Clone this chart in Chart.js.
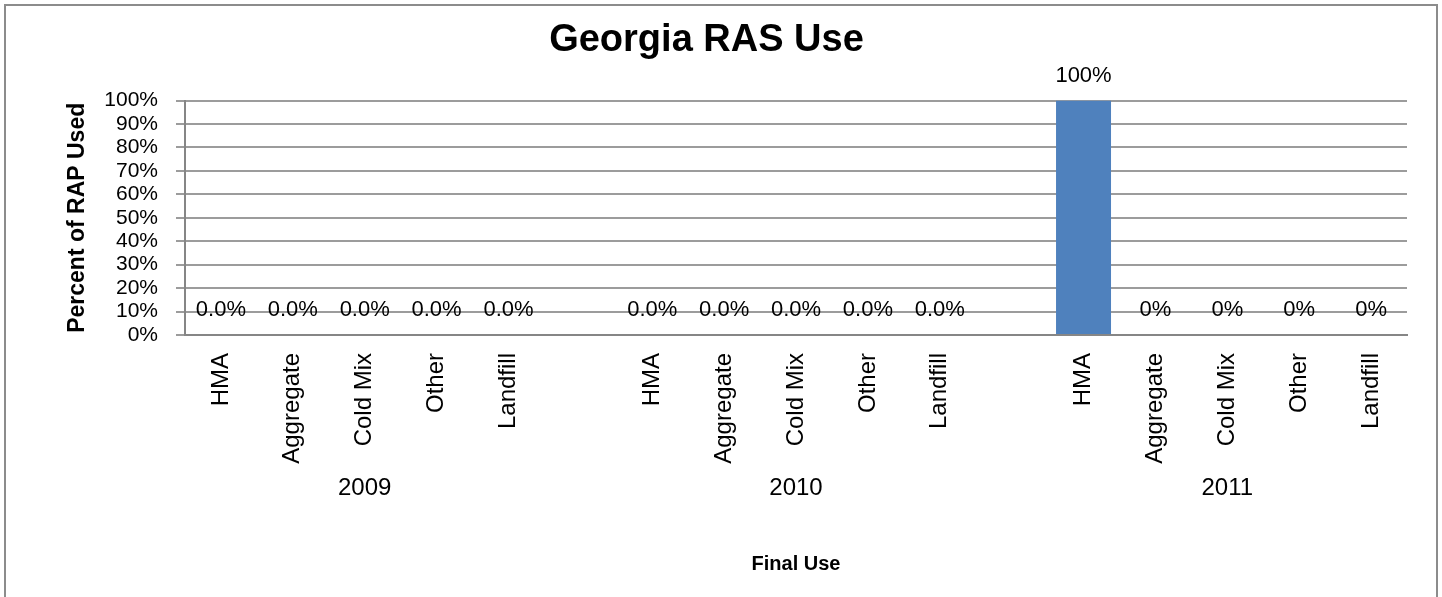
<!DOCTYPE html>
<html>
<head>
<meta charset="utf-8">
<title>Georgia RAS Use</title>
<script src="https://cdn.jsdelivr.net/npm/chart.js@4.4.0/dist/chart.umd.min.js"></script>
<style>
  html, body { margin: 0; padding: 0; background: #fff; overflow: hidden; }
  .frame { position: absolute; left: 4px; top: 4px; width: 1430px; height: 620px; border: 2px solid #8c8c8c; }
  canvas { display: block; }
</style>
</head>
<body>
<div class="frame"><canvas id="ras-chart" width="1430" height="591"></canvas></div>
<script>
// data
const finalUses = ['HMA', 'Aggregate', 'Cold Mix', 'Other', 'Landfill'];
const years     = ['2009', '2010', '2011'];
const use2009   = [0, 0, 0, 0, 0];
const use2010   = [0, 0, 0, 0, 0];
const use2011   = [100, 0, 0, 0, 0];
const labelDecimals = [1, 1, 0];   // 2009/2010 labels show 0.0%, 2011 shows 0%
const yTicks    = [0, 10, 20, 30, 40, 50, 60, 70, 80, 90, 100];

const GRID = '#9c9c9c';
const AXIS = '#868686';
const FONT = '"Liberation Sans", Arial, sans-serif';

// flatten the year groups into one category axis, with an empty slot between groups
const seriesByYear = [use2009, use2010, use2011];
const labels = [], values = [], decimals = [], groupSlots = [];
seriesByYear.forEach((vals, gi) => {
  if (gi > 0) { labels.push(''); values.push(null); decimals.push(0); }
  const first = labels.length;
  vals.forEach((v, i) => { labels.push(finalUses[i]); values.push(v); decimals.push(labelDecimals[gi]); });
  groupSlots.push([first, labels.length - 1]);
});

const valueLabels = {
  id: 'valueLabels',
  afterDatasetsDraw(chart) {
    const ctx = chart.ctx;
    const meta = chart.getDatasetMeta(0);
    ctx.save();
    ctx.font = '22px ' + FONT;
    ctx.fillStyle = '#000';
    ctx.textAlign = 'center';
    ctx.textBaseline = 'middle';
    meta.data.forEach((bar, i) => {
      const v = values[i];
      if (v === null) return;
      ctx.fillText(v.toFixed(decimals[i]) + '%', bar.x, bar.y - 25);
    });
    ctx.restore();
  }
};

const yearLabels = {
  id: 'yearLabels',
  afterDraw(chart) {
    const ctx = chart.ctx;
    const x = chart.scales.x;
    ctx.save();
    ctx.font = '24px ' + FONT;
    ctx.fillStyle = '#000';
    ctx.textAlign = 'center';
    ctx.textBaseline = 'middle';
    groupSlots.forEach(([a, b], gi) => {
      const cx = (x.getPixelForValue(a) + x.getPixelForValue(b)) / 2;
      ctx.fillText(years[gi], cx, x.top + 153);
    });
    ctx.restore();
  }
};

new Chart(document.getElementById('ras-chart'), {
  type: 'bar',
  data: {
    labels,
    datasets: [{ data: values, backgroundColor: '#4F81BD', borderWidth: 0,
                 categoryPercentage: 1, barPercentage: 0.765 }],
  },
  options: {
    responsive: false, animation: false,
    layout: { padding: { left: 0, right: 29, top: 0, bottom: 0 } },
    plugins: {
      legend: { display: false },
      tooltip: { enabled: false },
      title: { display: true, text: 'Georgia RAS Use', color: '#000',
               font: { family: FONT, size: 38, weight: 'bold' },
               padding: { top: 12, bottom: 37 } },
    },
    scales: {
      x: {
        grid: { display: false, drawTicks: false },
        border: { display: true, color: AXIS, width: 2 },
        ticks: { color: '#000', font: { family: FONT, size: 24 }, padding: 18,
                 minRotation: 90, maxRotation: 90, autoSkip: false },
        title: { display: true, text: 'Final Use', color: '#000',
                 font: { family: FONT, size: 20, weight: 'bold' }, padding: { top: 0, bottom: 21 } },
        afterFit: s => { s.height = 262; },
      },
      y: {
        min: 0, max: 100,
        afterBuildTicks: s => { s.ticks = yTicks.map(v => ({ value: v })); },
        grid: { color: GRID, lineWidth: 2, drawTicks: true, tickLength: 9, tickColor: GRID },
        border: { display: true, color: AXIS, width: 2 },
        ticks: { color: '#000', font: { family: FONT, size: 21 }, padding: 18, autoSkip: false,
                 callback: v => v + '%' },
        title: { display: true, text: 'Percent of RAP Used', color: '#000',
                 font: { family: FONT, size: 23, weight: 'bold' }, padding: { top: 58, bottom: 0 } },
        afterFit: s => { s.width = 179; },
      },
    },
  },
  plugins: [valueLabels, yearLabels],
});
</script>
</body>
</html>
